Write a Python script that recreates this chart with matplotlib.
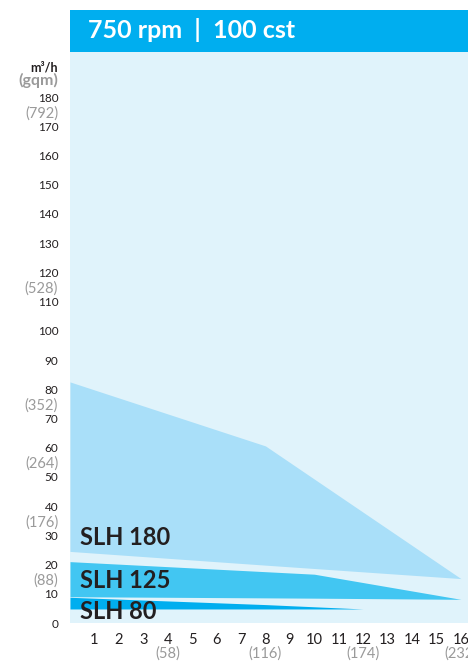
import matplotlib
matplotlib.use("Agg")
import matplotlib.pyplot as plt
from matplotlib.patches import Rectangle

# ---- data ----
slh180_x = [0, 8, 16]
slh180_top = [82.5, 60.6, 15.2]
slh180_bot = [24.5, 19.8, 15.2]

slh125_x = [0, 10, 16]
slh125_top = [21.0, 16.7, 8.1]
slh125_bot = [9.0, 8.5, 8.1]

slh80_x = [0, 8, 12]
slh80_top = [8.8, 6.3, 4.8]
slh80_bot = [4.8, 4.8, 4.8]

series_labels = ["SLH 180", "SLH 125", "SLH 80"]

y_ticks = [0, 10, 20, 30, 40, 50, 60, 70, 80, 90, 100, 110, 120, 130, 140, 150, 160, 170, 180]
y_gpm_pos = [15, 35, 55, 75, 115, 175]
y_gpm_labels = ["(88)", "(176)", "(264)", "(352)", "(528)", "(792)"]
x_ticks = list(range(1, 17))
x_gpm_pos = [4, 8, 12, 16]
x_gpm_labels = ["(58)", "(116)", "(174)", "(232)"]

title = "750 rpm  |  100 cst"

# ---- style ----
FONT = ["Lato", "DejaVu Sans"]
plt.rcParams["font.family"] = FONT
W, H = 468, 662
BG = "#e0f3fb"
C180 = "#a9dff9"
C125 = "#42c6f2"
C80 = "#00aeef"
HEAD = "#00aeef"
DARK = "#231f20"
GRAY = "#9a9a9a"

fig = plt.figure(figsize=(W / 100, H / 100), dpi=100)
fig.patch.set_facecolor("white")

left, right, top, bottom = 70, 468, 52, 623
ax = fig.add_axes([left / W, 1 - bottom / H, (right - left) / W, (bottom - top) / H])
ax.set_facecolor(BG)
ax.set_xlim(0, 16.29)
ax.set_ylim(0, 195.4)
for s in ax.spines.values():
    s.set_visible(False)
ax.xaxis.remove_overlapping_locs = False
ax.yaxis.remove_overlapping_locs = False

ax.fill_between(slh180_x, slh180_bot, slh180_top, color=C180, lw=0)
ax.fill_between(slh125_x, slh125_bot, slh125_top, color=C125, lw=0)
ax.fill_between(slh80_x, slh80_bot, slh80_top, color=C80, lw=0)

label_y = [26.7, 12.0, 1.4]
for lab, yy in zip(series_labels, label_y):
    ax.text(0.40, yy, lab, fontsize=17, fontweight="bold", color=DARK, va="baseline", ha="left")

# y ticks
ax.set_yticks(y_ticks)
ax.set_yticklabels([str(v) for v in y_ticks], fontsize=8.5, color=DARK)
ax.set_yticks(y_gpm_pos, minor=True)
ax.set_yticklabels(y_gpm_labels, minor=True, fontsize=10.5, color=GRAY)
ax.tick_params(axis="y", which="both", length=0, pad=8.5)

# x ticks
ax.set_xticks(x_ticks)
ax.set_xticklabels([str(v) for v in x_ticks], fontsize=10.5, color=DARK)
ax.set_xticks(x_gpm_pos, minor=True)
ax.set_xticklabels(x_gpm_labels, minor=True, fontsize=10.5, color=GRAY)
ax.tick_params(axis="x", which="major", length=0, pad=7)
ax.tick_params(axis="x", which="minor", length=0, pad=16.5)

# header
fig.add_artist(Rectangle((70 / W, 1 - 52 / H), (468 - 70) / W, 42 / H,
                         transform=fig.transFigure, color=HEAD, lw=0))
fig.text(88 / W, 1 - 37.5 / H, title, fontsize=18, fontweight="bold",
         color="white", va="baseline", ha="left")

# axis unit labels
fig.text(58 / W, 1 - 71 / H, "m³/h", fontsize=9, fontweight="bold", color=DARK,
         ha="right", va="baseline")
fig.text(58 / W, 1 - 85 / H, "(gqm)", fontsize=11.5, fontweight="bold", color=GRAY,
         ha="right", va="baseline")

fig.savefig("out.png", dpi=100, facecolor="white")
